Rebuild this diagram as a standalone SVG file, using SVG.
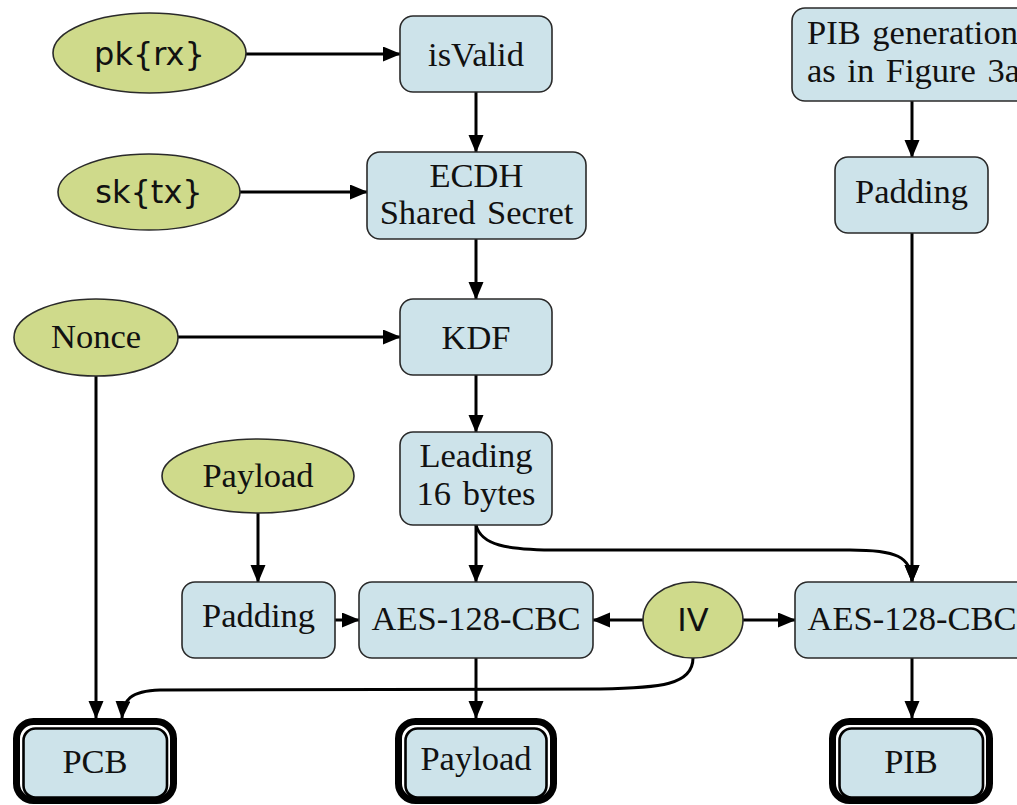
<svg xmlns="http://www.w3.org/2000/svg" width="1017" height="805" viewBox="0 0 1017 805">
  <style>
    .box { fill: #cde3ea; stroke: #2a2a2a; stroke-width: 1.6; }
    .ell { fill: #cfda8b; stroke: #2a2a2a; stroke-width: 1.6; }
    .ring { fill: none; stroke: #000; stroke-width: 7; }
    .inner { fill: #cde3ea; stroke: #000; stroke-width: 2.6; }
    .serif { font-family: "Liberation Serif", "Times New Roman", serif; font-size: 34.5px; fill: #111; text-anchor: middle; word-spacing: 3px; }
    .sans { font-family: "DejaVu Sans", "Liberation Sans", sans-serif; font-size: 32px; fill: #111; text-anchor: middle; }
    .conn { fill: none; stroke: #000; stroke-width: 3; }
  </style>
  <defs>
    <marker id="arrow" markerUnits="userSpaceOnUse" markerWidth="20" markerHeight="16" refX="17" refY="7.5" orient="auto">
      <path d="M0,0 L18,7.5 L0,15 z" fill="#000"/>
    </marker>
  </defs>

  <rect width="1017" height="805" fill="#fff"/>

  <!-- connectors -->
  <g id="connectors" class="conn" marker-end="url(#arrow)">
    <line x1="246" y1="54" x2="400" y2="54"/>
    <line x1="476" y1="92" x2="476" y2="152"/>
    <line x1="240" y1="192" x2="367" y2="192"/>
    <line x1="476" y1="239" x2="476" y2="299"/>
    <line x1="178" y1="337" x2="400" y2="337"/>
    <line x1="476" y1="375" x2="476" y2="432"/>
    <line x1="476" y1="525" x2="476" y2="582"/>
    <path d="M476,525 C481,545 505,550 560,550 L850,550 C895,550 912,556 912,582"/>
    <line x1="912" y1="101" x2="912" y2="157"/>
    <line x1="912" y1="233" x2="912" y2="582"/>
    <line x1="258" y1="513" x2="258" y2="582"/>
    <line x1="335" y1="620" x2="359" y2="620"/>
    <line x1="643" y1="620" x2="593" y2="620"/>
    <line x1="743" y1="620" x2="795" y2="620"/>
    <path d="M693,658 C693,685 660,688 600,689 L160,690 C130,691 123,700 122,718"/>
    <line x1="96" y1="376" x2="96" y2="718"/>
    <line x1="476" y1="658" x2="476" y2="718"/>
    <line x1="912" y1="658" x2="912" y2="718"/>
  </g>

  <!-- input ellipses -->
  <g id="pk-rx">
    <ellipse class="ell" cx="149.5" cy="53" rx="96.5" ry="40"/>
    <text class="sans" x="149.5" y="65">pk{rx}</text>
  </g>
  <g id="sk-tx">
    <ellipse class="ell" cx="149" cy="192" rx="91" ry="38"/>
    <text class="sans" x="149" y="203">sk{tx}</text>
  </g>
  <g id="nonce">
    <ellipse class="ell" cx="96" cy="337.5" rx="82" ry="38.5"/>
    <text class="serif" x="96" y="348">Nonce</text>
  </g>
  <g id="payload-in">
    <ellipse class="ell" cx="258" cy="476" rx="96" ry="37"/>
    <text class="serif" x="258" y="487">Payload</text>
  </g>
  <g id="iv">
    <ellipse class="ell" cx="693" cy="620" rx="50" ry="38"/>
    <text class="sans" x="693" y="631">IV</text>
  </g>

  <!-- processing boxes -->
  <g id="isvalid">
    <rect class="box" x="400" y="16" width="152" height="76" rx="13"/>
    <text class="serif" x="476" y="66">isValid</text>
  </g>
  <g id="ecdh">
    <rect class="box" x="367" y="152" width="219" height="87" rx="13"/>
    <text class="serif" x="476.5" y="187">ECDH</text>
    <text class="serif" x="476.5" y="224">Shared Secret</text>
  </g>
  <g id="kdf">
    <rect class="box" x="400" y="299" width="152" height="76" rx="13"/>
    <text class="serif" x="476" y="349">KDF</text>
  </g>
  <g id="leading">
    <rect class="box" x="400" y="432" width="152" height="93" rx="13"/>
    <text class="serif" x="476" y="467">Leading</text>
    <text class="serif" x="476" y="505">16 bytes</text>
  </g>
  <g id="padding-payload">
    <rect class="box" x="182" y="582" width="153" height="76" rx="13"/>
    <text class="serif" x="258.5" y="627">Padding</text>
  </g>
  <g id="aes-payload">
    <rect class="box" x="359" y="582" width="234" height="76" rx="13"/>
    <text class="serif" x="476" y="630">AES-128-CBC</text>
  </g>
  <g id="pib-generation">
    <rect class="box" x="792" y="8" width="240" height="93" rx="13"/>
    <text class="serif" x="807" y="44" style="text-anchor:start" word-spacing="6">PIB generation</text>
    <text class="serif" x="807" y="82" style="text-anchor:start" word-spacing="3">as in Figure 3a</text>
  </g>
  <g id="padding-pib">
    <rect class="box" x="835" y="157" width="153" height="76" rx="13"/>
    <text class="serif" x="911.5" y="203">Padding</text>
  </g>
  <g id="aes-pib">
    <rect class="box" x="795" y="582" width="234" height="76" rx="13"/>
    <text class="serif" x="912" y="630">AES-128-CBC</text>
  </g>

  <!-- outputs -->
  <g id="pcb">
    <rect class="ring" x="16.5" y="721.5" width="157" height="79" rx="17"/>
    <rect class="inner" x="23.5" y="728.5" width="143.5" height="69" rx="12"/>
    <text class="serif" x="95" y="773">PCB</text>
  </g>
  <g id="payload-out">
    <rect class="ring" x="398.5" y="721.5" width="155" height="79" rx="17"/>
    <rect class="inner" x="405.5" y="728.5" width="141" height="69" rx="12"/>
    <text class="serif" x="476" y="770">Payload</text>
  </g>
  <g id="pib">
    <rect class="ring" x="832.5" y="721.5" width="157" height="79" rx="17"/>
    <rect class="inner" x="839.5" y="728.5" width="143.5" height="69" rx="12"/>
    <text class="serif" x="911" y="773">PIB</text>
  </g>
</svg>
